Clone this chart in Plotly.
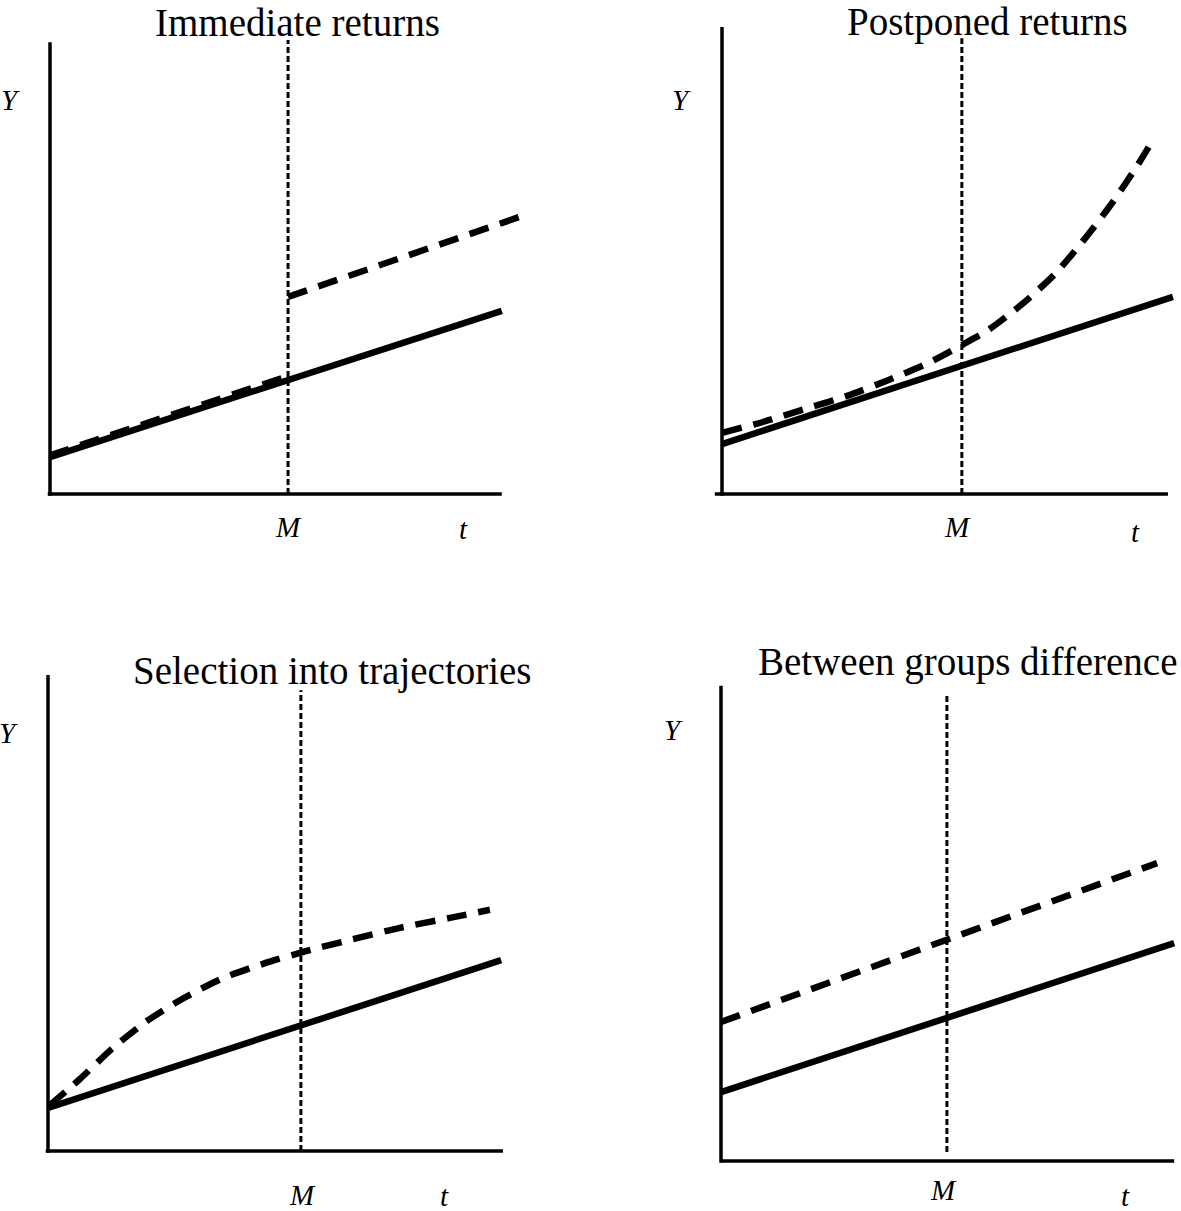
import plotly.graph_objects as go

W, H = 1181, 1211
S = 45.0  # pixels per data unit (same in every panel)

# ---------------- data ----------------
titles = ["Immediate returns", "Postponed returns",
          "Selection into trajectories", "Between groups difference"]
M_vals = [5.29, 5.33, 5.62, 5.02]

# Panel 1: Immediate returns
p1_solid_t = [0.0, 10.04]
p1_solid_y = [0.82, 4.07]
p1_dash_t = [0.0, 5.29, None, 5.29, 10.44]
p1_dash_y = [0.86, 2.62, None, 4.38, 6.16]

# Panel 2: Postponed returns
p2_solid_t = [0.0, 10.02]
p2_solid_y = [1.11, 4.38]
p2_dash_t = [0.0, 0.91, 1.84, 2.78, 3.69, 4.58, 5.33, 5.91, 6.67, 7.40, 8.02, 8.62, 9.18, 9.56]
p2_dash_y = [1.36, 1.60, 1.89, 2.18, 2.53, 2.91, 3.31, 3.64, 4.22, 4.89, 5.62, 6.40, 7.22, 7.84]

# Panel 3: Selection into trajectories
p3_solid_t = [0.0, 10.07]
p3_solid_y = [0.96, 4.24]
p3_dash_t = [0.04, 0.71, 1.42, 2.20, 3.02, 3.89, 4.78, 5.73, 6.71, 7.82, 8.93, 9.82]
p3_dash_y = [1.02, 1.60, 2.27, 2.89, 3.40, 3.84, 4.16, 4.44, 4.69, 4.96, 5.18, 5.36]

# Panel 4: Between groups difference
p4_solid_t = [0.0, 10.07]
p4_solid_y = [1.53, 4.84]
p4_dash_t = [0.0, 9.69]
p4_dash_y = [3.09, 6.62]

solid_t = [p1_solid_t, p2_solid_t, p3_solid_t, p4_solid_t]
solid_y = [p1_solid_y, p2_solid_y, p3_solid_y, p4_solid_y]
dash_t = [p1_dash_t, p2_dash_t, p3_dash_t, p4_dash_t]
dash_y = [p1_dash_y, p2_dash_y, p3_dash_y, p4_dash_y]
dash_shape = ["linear", "spline", "spline", "linear"]

# ---------------- layout geometry (pixels) ----------------
boxes = [(0, 590, 0, 605), (590, 1181, 0, 605), (0, 590, 605, 1211), (590, 1181, 605, 1211)]
origins = [(50, 494), (722, 494), (48, 1151), (721, 1161)]
xaxis_ext = [(-0.05, 10.04), (-0.16, 9.91), (-0.05, 10.11), (0.0, 10.07)]
yaxis_top = [10.04, 10.38, 10.58, 10.56]
vline_ext = [(0.0, 10.09), (0.0, 10.13), (0.0, 10.24), (0.2, 10.36)]

title_pos = [(297, 23, "center"), (987, 22, "center"), (332, 671, "center"), (756, 662, "left")]
Y_pos = [(10, 100), (681, 100), (8, 733), (673, 730)]
M_pos = [(288, 527), (957, 527), (302, 1195), (943, 1190)]
t_pos = [(463, 529), (1135, 532), (444, 1196), (1125, 1196)]

SERIF = "Liberation Serif, Times New Roman, serif"

fig = go.Figure()
annotations = []

for i in range(4):
    n = "" if i == 0 else str(i + 1)
    xa, ya = "x" + n, "y" + n
    bx0, bx1, by0, by1 = boxes[i]
    ox, oy = origins[i]
    fig.layout["xaxis" + n] = dict(
        domain=[bx0 / W, bx1 / W],
        range=[(bx0 - ox) / S, (bx1 - ox) / S],
        visible=False, fixedrange=True, anchor=ya)
    fig.layout["yaxis" + n] = dict(
        domain=[1 - by1 / H, 1 - by0 / H],
        range=[(oy - by1) / S, (oy - by0) / S],
        visible=False, fixedrange=True, anchor=xa)

    # vertical dashed line at M
    fig.add_trace(go.Scatter(
        x=[M_vals[i], M_vals[i]], y=list(vline_ext[i]), mode="lines",
        line=dict(color="black", width=3, dash="6px,3px"),
        xaxis=xa, yaxis=ya, showlegend=False, hoverinfo="skip"))
    # axes
    fig.add_trace(go.Scatter(
        x=[xaxis_ext[i][0], xaxis_ext[i][1]], y=[0, 0], mode="lines",
        line=dict(color="black", width=3.5),
        xaxis=xa, yaxis=ya, showlegend=False, hoverinfo="skip"))
    fig.add_trace(go.Scatter(
        x=[0, 0], y=[-0.04, yaxis_top[i]], mode="lines",
        line=dict(color="black", width=3.5),
        xaxis=xa, yaxis=ya, showlegend=False, hoverinfo="skip"))
    # solid line
    fig.add_trace(go.Scatter(
        x=solid_t[i], y=solid_y[i], mode="lines",
        line=dict(color="black", width=6.5),
        xaxis=xa, yaxis=ya, showlegend=False, hoverinfo="skip"))
    # dashed line
    fig.add_trace(go.Scatter(
        x=dash_t[i], y=dash_y[i], mode="lines",
        line=dict(color="black", width=6.5, dash="20px,12px",
                  shape=dash_shape[i], smoothing=0.7),
        connectgaps=False,
        xaxis=xa, yaxis=ya, showlegend=False, hoverinfo="skip"))

    tx, ty, anc = title_pos[i]
    annotations.append(dict(text=titles[i], x=tx / W, y=1 - ty / H, xref="paper", yref="paper",
                            xanchor=anc, yanchor="middle", showarrow=False,
                            font=dict(family=SERIF, size=39, color="black")))
    for (px, py), lab in ((Y_pos[i], "Y"), (M_pos[i], "M"), (t_pos[i], "t")):
        annotations.append(dict(text="<i>%s</i>" % lab, x=px / W, y=1 - py / H,
                                xref="paper", yref="paper", xanchor="center", yanchor="middle",
                                showarrow=False,
                                font=dict(family=SERIF, size=29, color="black")))

fig.update_layout(width=W, height=H, margin=dict(l=0, r=0, t=0, b=0),
                  paper_bgcolor="white", plot_bgcolor="white",
                  annotations=annotations, showlegend=False)

fig.write_html("out.html", config={"displayModeBar": False},
               post_script="document.body.style.margin='0px';document.body.style.overflow='hidden';")
